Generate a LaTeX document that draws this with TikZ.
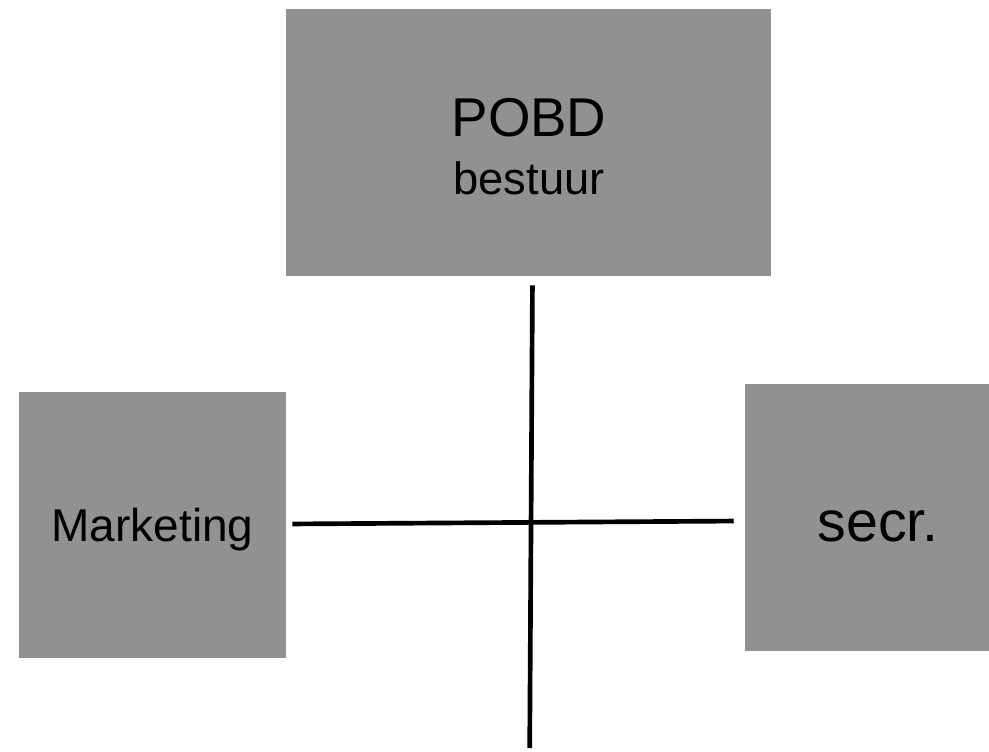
\documentclass[tikz,border=0pt]{standalone}
\usepackage{fontspec}
\setmainfont{Liberation Sans}
\usetikzlibrary{positioning}
\definecolor{boxgray}{RGB}{145,145,145}

\begin{document}
\begin{tikzpicture}[
        x=0.75pt, y=-0.75pt,
        unit/.style 2 args={rectangle, fill=boxgray, inner sep=0pt, minimum width=#1, minimum height=#2},
        caption/.style={anchor=base, inner sep=0pt, text=black},
        link/.style={line width=3.5pt, black}
    ]
    \useasboundingbox (0,0) rectangle (989,751);

    % the three boxes
    \node (pobd) [unit={363.75pt}{200.25pt}] at (528.5,142.5) {};
    \node (marketing) [unit={200.25pt}{199.5pt}] at (152.5,525) {};
    \node (secr) [unit={183pt}{200.25pt}] at (867,517.5) {};

    % their texts
    \node (pobdname) [caption] at (529,136) {\fontsize{41}{41}\selectfont POBD};
    \node (pobdsub) [caption] at (529,194) {\fontsize{34}{34}\selectfont bestuur};
    \node (marketingname) [caption] at (152.5,541) {\fontsize{34.5}{34.5}\selectfont Marketing};
    \node (secrname) [caption] at (878,541) {\fontsize{43}{43}\selectfont secr.};

    \coordinate (bottom) at (529.7,748);

    \draw[link, shorten <=6.75pt] ([xshift=3pt]pobd.south) -- (bottom);
    \draw[link, shorten <=4.5pt, shorten >=8.25pt] ([yshift=0.75pt]marketing.east) -- ([yshift=-2.6pt]secr.west);
\end{tikzpicture}
\end{document}
